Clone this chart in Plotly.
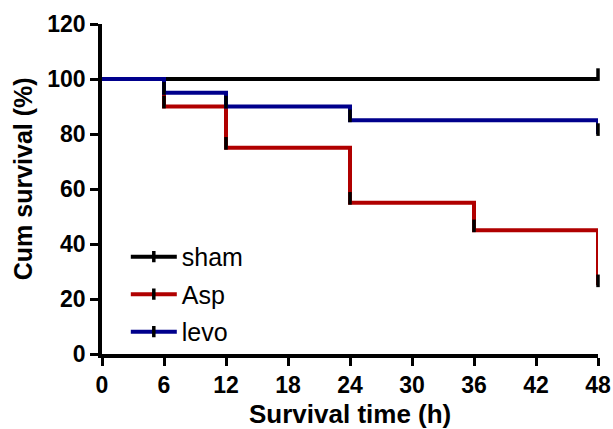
import plotly.graph_objects as go

# ---- data ----
times = [0, 6, 12, 24, 36, 48]
sham = [100, 100, 100, 100, 100, 100]
asp = [100, 90, 75, 55, 45, 25]
levo = [100, 95, 90, 85, 85, 80]

sham_cens_t = [48]
sham_cens_y = [100]
asp_cens_t = [6, 12, 24, 36, 48]
asp_cens_y = [90, 75, 55, 45, 25]
levo_cens_t = [6, 12, 24, 48]
levo_cens_y = [95, 90, 85, 80]

x_ticks = [0, 6, 12, 18, 24, 30, 36, 42, 48]
y_ticks = [0, 20, 40, 60, 80, 100, 120]

names = ["sham", "Asp", "levo"]
colors = ["#000000", "#B00000", "#00008C"]

x_title = "Survival time (h)"
y_title = "Cum survival (%)"

FONT = "Liberation Sans, Arial, sans-serif"
LW = 4
TICK_OFF = 1.6  # style offset (data units) for censor tick marks

fig = go.Figure()

series = [(sham, sham_cens_t, sham_cens_y), (asp, asp_cens_t, asp_cens_y), (levo, levo_cens_t, levo_cens_y)]

for (vals, ct, cy), name, col in zip(series, names, colors):
    fig.add_trace(go.Scatter(
        x=times, y=vals, mode="lines", line=dict(color=col, width=LW, shape="hv"),
        showlegend=False, cliponaxis=False, hoverinfo="skip"))

for (vals, ct, cy), name, col in zip(series, names, colors):
    fig.add_trace(go.Scatter(
        x=ct, y=[v + TICK_OFF for v in cy], mode="markers",
        marker=dict(symbol="line-ns", size=9, color="black", line=dict(color="black", width=3.5)),
        showlegend=False, cliponaxis=False, hoverinfo="skip"))

for i, (name, col) in enumerate(zip(names, colors)):
    fig.add_trace(go.Scatter(
        x=[None], y=[None], mode="lines+markers", name=name, legendgroup=name,
        line=dict(color=col, width=LW),
        marker=dict(symbol="line-ns", size=8, color="black", line=dict(color="black", width=3.5))))

axis_common = dict(
    showline=True, linecolor="black", linewidth=3.5, mirror=False,
    ticks="outside", ticklen=8, tickwidth=3, tickcolor="black",
    showgrid=False, zeroline=False, automargin=False, ticklabeloverflow="allow",
    tickfont=dict(family=FONT, size=23, color="black", weight="bold"),
)

fig.update_layout(
    width=613, height=429,
    margin=dict(l=102, r=15, t=24, b=75),
    paper_bgcolor="white", plot_bgcolor="white",
    xaxis=dict(range=[0, 48], tickvals=x_ticks, ticktext=[str(v) for v in x_ticks],
               **axis_common),
    yaxis=dict(range=[0, 120], tickvals=y_ticks, ticktext=[str(v) for v in y_ticks],
               **axis_common),
    legend=dict(x=0.048, y=0.364, xanchor="left", yanchor="top",
                font=dict(family=FONT, size=25, color="black"),
                bgcolor="rgba(0,0,0,0)", tracegroupgap=2, itemwidth=46),
    font=dict(family=FONT),
    annotations=[
        dict(text=y_title, textangle=-90, xref="paper", yref="paper",
             x=-0.159, y=0.530, xanchor="center", yanchor="middle", showarrow=False,
             font=dict(family=FONT, size=25, color="black", weight="bold")),
        dict(text=x_title, xref="paper", yref="paper", borderpad=0,
             x=0.5, y=-0.132, xanchor="center", yanchor="top", showarrow=False,
             font=dict(family=FONT, size=26, color="black", weight="bold")),
    ],
)

fig.write_html(
    "out.html",
    config={"displayModeBar": False},
    post_script=(
        "document.body.style.margin='0';"
        "document.body.style.overflow='hidden';"
        "document.documentElement.style.overflow='hidden';"
    ),
)
